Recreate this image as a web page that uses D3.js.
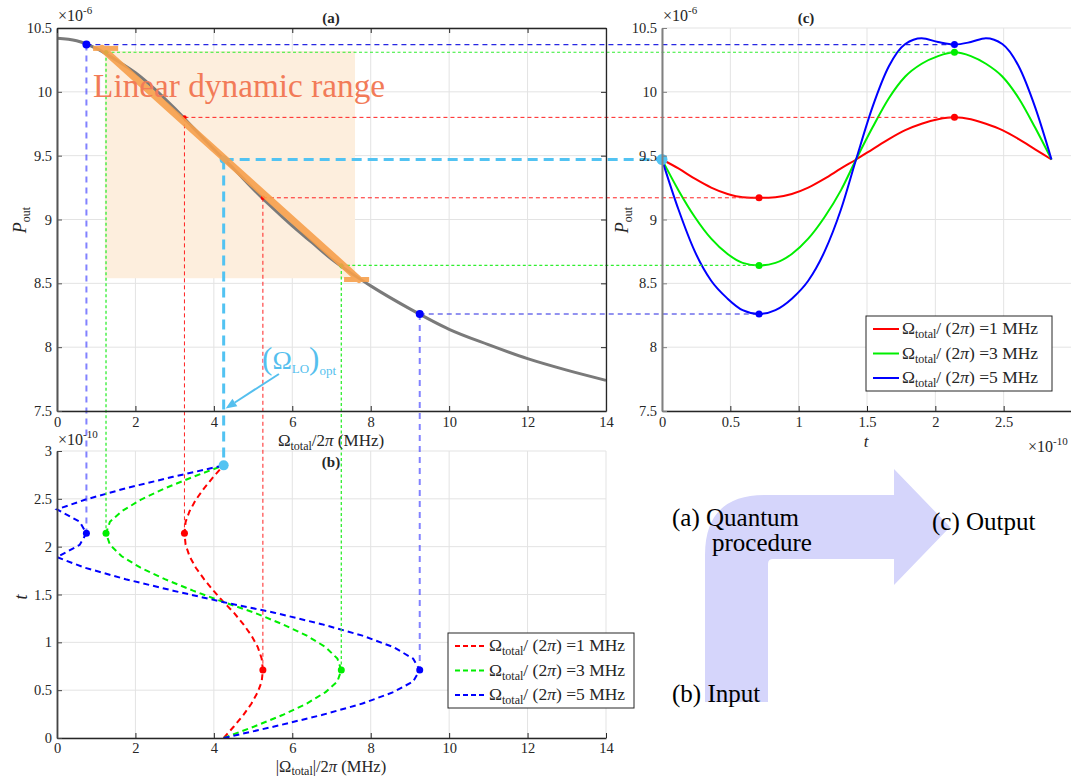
<!DOCTYPE html>
<html><head><meta charset="utf-8">
<script src="https://cdn.jsdelivr.net/npm/d3@7"></script>
<style>body{margin:0;background:#fff;overflow:hidden} svg text{font-family:'Liberation Serif','Times New Roman',serif;}</style>
</head><body><svg id="fig" width="1071" height="778"></svg>
<script>
// ---------------- data ----------------
const omegaGrid = [0,0.5,1,1.5,2,2.5,3,3.5,4,4.5,5,5.5,6,6.5,7,7.5,8,9,10,11,12,13,14];
const poutGray  = [10.42,10.40,10.34,10.25,10.15,10.02,9.87,9.71,9.55,9.40,9.24,9.09,8.95,8.82,8.69,8.58,8.48,8.30,8.14,8.02,7.91,7.82,7.74];

const tGrid      = [0,0.12,0.24,0.36,0.48,0.59,0.71,0.83,0.95,1.07,1.19,1.31,1.42,1.54,1.66,1.78,1.90,2.02,2.14,2.26,2.37,2.49,2.61,2.73,2.85];
const tGridBlueB = [0,0.12,0.24,0.36,0.48,0.59,0.71,0.83,0.95,1.07,1.19,1.31,1.42,1.54,1.66,1.78,1.89,2.02,2.14,2.26,2.39,2.49,2.61,2.73,2.85];

const omegaRed   = [4.25,4.51,4.75,4.96,5.12,5.22,5.25,5.22,5.12,4.96,4.75,4.51,4.25,3.99,3.75,3.54,3.38,3.28,3.25,3.28,3.38,3.54,3.75,3.99,4.25];
const omegaGreen = [4.25,5.03,5.75,6.37,6.85,7.15,7.25,7.15,6.85,6.37,5.75,5.03,4.25,3.47,2.75,2.13,1.65,1.35,1.25,1.35,1.65,2.13,2.75,3.47,4.25];
const omegaBlue  = [4.25,5.54,6.75,7.79,8.58,9.08,9.25,9.08,8.58,7.79,6.75,5.54,4.25,2.96,1.75,0.71,0,0.58,0.75,0.58,0,0.71,1.75,2.96,4.25];

const poutRed   = [9.47,9.40,9.32,9.25,9.20,9.175,9.17,9.175,9.20,9.25,9.32,9.40,9.47,9.55,9.63,9.70,9.75,9.785,9.80,9.785,9.75,9.70,9.63,9.55,9.47];
const poutGreen = [9.47,9.23,9.02,8.85,8.73,8.66,8.64,8.66,8.73,8.85,9.02,9.23,9.47,9.72,9.95,10.12,10.22,10.28,10.31,10.28,10.22,10.12,9.95,9.72,9.47];
const poutBlue  = [9.47,9.08,8.75,8.52,8.38,8.29,8.26,8.29,8.38,8.52,8.75,9.08,9.47,9.88,10.20,10.375,10.42,10.39,10.37,10.39,10.42,10.375,10.20,9.88,9.47];

const amplitudes = [1,3,5];
const seriesColors = ["#ff0000","#00ee00","#0000ff"];
const extremeIdx = [6,18];

const omegaTicks = [0,2,4,6,8,10,12,14];
const poutTicks  = [7.5,8,8.5,9,9.5,10,10.5];
const tTicks     = [0,0.5,1,1.5,2,2.5,3];
const tTickLabelsC = [0,0.5,1,1.5,2,2.5];

const omegaLO = 4.25, poutLO = 9.47, tEndB = 2.85;
const linRangeOmega = [1.15, 7.7], linRangeP = [10.34, 8.53];
const shadeOmega = [1.22, 7.6], shadeP = [8.54, 10.32];
const labelLinear = {omega:0.92, p:9.96};
const labelLO = {omega:5.23, p:7.83};
const arrowLO = {from:[5.66, 7.79], to:[4.30, 7.52]};

// ---------------- setup ----------------
const SERIF = "'Liberation Serif','Times New Roman',serif";
const svg = d3.select("#fig").style("font-family", SERIF);
const AX = "#262626", GRID = "#e3e3e3";

const xA = d3.scaleLinear().domain([0,14]).range([57,606]);
const yA = d3.scaleLinear().domain([7.5,10.5]).range([411,28]);
const xC = d3.scaleLinear().domain([0,3]).range([662,1072]);
const yC = yA.copy();
const xB = xA.copy();
const yB = d3.scaleLinear().domain([0,3]).range([738,451]);

function rich(g, x, y, parts, fs, anchor, color, rot){
  const t = g.append("text").attr("x",x).attr("y",y).attr("font-size",fs)
    .attr("text-anchor",anchor||"start").attr("fill",color||AX).style("font-family",SERIF);
  if(rot) t.attr("transform",`rotate(${rot},${x},${y})`);
  let cur = 0;
  parts.forEach(p=>{
    const s = t.append("tspan").text(p.t);
    const off = p.off||0;
    if(off!==cur){ s.attr("dy", off-cur); cur = off; }
    if(p.fs) s.attr("font-size", p.fs);
    if(p.it) s.attr("font-style","italic");
  });
  return t;
}

function grid(g, xs, ys, xt, yt){
  g.append("g").selectAll("line").data(xt).join("line")
    .attr("x1",d=>xs(d)).attr("x2",d=>xs(d)).attr("y1",ys.range()[0]).attr("y2",ys.range()[1])
    .attr("stroke",GRID).attr("stroke-width",1);
  g.append("g").selectAll("line").data(yt).join("line")
    .attr("y1",d=>ys(d)).attr("y2",d=>ys(d)).attr("x1",xs.range()[0]).attr("x2",Math.min(xs.range()[1],1071))
    .attr("stroke",GRID).attr("stroke-width",1);
}

function styleAxis(a, color, w){
  a.attr("font-family",SERIF);
  a.select(".domain").attr("stroke",color).attr("stroke-width",w);
  a.selectAll(".tick line").attr("stroke",color).attr("stroke-width",1);
  a.selectAll(".tick text").attr("fill",AX).attr("font-size",14.5).style("font-family",SERIF);
}

// grids
grid(svg.append("g"), xA, yA, omegaTicks, poutTicks);
grid(svg.append("g"), xC, yC, tTicks, poutTicks);
grid(svg.append("g"), xB, yB, omegaTicks, tTicks);

// ---------------- panel (a) content ----------------
const gA = svg.append("g");
gA.append("rect").attr("x",xA(shadeOmega[0])).attr("y",yA(shadeP[1]))
  .attr("width",xA(shadeOmega[1])-xA(shadeOmega[0])).attr("height",yA(shadeP[0])-yA(shadeP[1]))
  .attr("fill","#fdeedd");

const lineA = d3.line().x(d=>xA(d[0])).y(d=>yA(d[1])).curve(d3.curveMonotoneX);
gA.append("path").datum(omegaGrid.map((o,i)=>[o,poutGray[i]])).attr("d",lineA)
  .attr("fill","none").attr("stroke","#7a7a7a").attr("stroke-width",3);

// ---------------- panel (b) curves ----------------
const gB = svg.append("g");
const omegaSeries = [omegaRed, omegaGreen, omegaBlue];
const poutSeries = [poutRed, poutGreen, poutBlue];
const tSeriesB = [tGrid, tGrid, tGridBlueB];
const lineB = d3.line().x(d=>xB(d[0])).y(d=>yB(d[1]));
omegaSeries.forEach((om,s)=>{
  gB.append("path").datum(om.map((o,i)=>[o,tSeriesB[s][i]])).attr("d",lineB)
    .attr("fill","none").attr("stroke",seriesColors[s]).attr("stroke-width",2)
    .attr("stroke-dasharray","6,4");
});

// ---------------- panel (c) curves ----------------
const gC = svg.append("g");
const lineC = d3.line().x(d=>xC(d[0])).y(d=>yC(d[1])).curve(d3.curveMonotoneX);
poutSeries.forEach((ps,s)=>{
  gC.append("path").datum(ps.map((p,i)=>[tGrid[i],p])).attr("d",lineC)
    .attr("fill","none").attr("stroke",seriesColors[s]).attr("stroke-width",2);
});

// ---------------- connector dashed lines ----------------
const gL = svg.append("g");
const conH = [
  {c:"#ff2020", w:1, dash:"4,3", op:1},
  {c:"#30ee30", w:1.2, dash:"3,2.5", op:1},
  {c:"#1010e0", w:1.1, dash:"5,4", op:0.9}
];
const conV = [
  {c:"#ff2020", w:1, dash:"4,3", op:1},
  {c:"#30ee30", w:1.3, dash:"3,2.5", op:1},
  {c:"#3030ff", w:2, dash:"6,5", op:0.6}
];
omegaSeries.forEach((om,s)=>{
  extremeIdx.forEach(k=>{
    const h = conH[s], v = conV[s];
    gL.append("line").attr("x1",xA(om[k])).attr("x2",xC(tGrid[k]))
      .attr("y1",yA(poutSeries[s][k])).attr("y2",yC(poutSeries[s][k]))
      .attr("stroke",h.c).attr("stroke-width",h.w).attr("stroke-dasharray",h.dash).attr("opacity",h.op);
    gL.append("line").attr("x1",xA(om[k])).attr("x2",xB(om[k]))
      .attr("y1",yA(poutSeries[s][k])).attr("y2",yB(tSeriesB[s][k]))
      .attr("stroke",v.c).attr("stroke-width",v.w).attr("stroke-dasharray",v.dash).attr("opacity",v.op);
  });
});
const CYAN = "#52c3f2";
gL.append("line").attr("x1",xA(omegaLO)).attr("x2",xC(0)).attr("y1",yA(poutLO)).attr("y2",yC(poutLO))
  .attr("stroke",CYAN).attr("stroke-width",3).attr("stroke-dasharray","10,6");
gL.append("line").attr("x1",xA(omegaLO)).attr("x2",xB(omegaLO)).attr("y1",yA(poutLO)).attr("y2",yB(tEndB))
  .attr("stroke",CYAN).attr("stroke-width",3).attr("stroke-dasharray","10,6");

// dots
const gD = svg.append("g");
omegaSeries.forEach((om,s)=>{
  extremeIdx.forEach(k=>{
    gD.append("circle").attr("cx",xA(om[k])).attr("cy",yA(poutSeries[s][k])).attr("r", s===2?4:2.2).attr("fill",seriesColors[s]);
    gD.append("circle").attr("cx",xC(tGrid[k])).attr("cy",yC(poutSeries[s][k])).attr("r",3.5).attr("fill",seriesColors[s]);
    gD.append("circle").attr("cx",xB(om[k])).attr("cy",yB(tSeriesB[s][k])).attr("r",3.5).attr("fill",seriesColors[s]);
  });
});
gD.append("circle").attr("cx",xA(omegaLO)).attr("cy",yA(poutLO)).attr("r",4).attr("fill",CYAN);
gD.append("circle").attr("cx",xB(omegaLO)).attr("cy",yB(tEndB)).attr("r",5).attr("fill",CYAN);
gD.append("circle").attr("cx",xC(0)).attr("cy",yC(poutLO)).attr("r",5.5).attr("fill",CYAN);

// orange linear-range marker
const ORANGE = "#f7a04c";
const gO = svg.append("g").attr("opacity",0.9);
gO.append("line").attr("x1",xA(linRangeOmega[0])).attr("y1",yA(linRangeP[0]))
  .attr("x2",xA(linRangeOmega[1])).attr("y2",yA(linRangeP[1]))
  .attr("stroke",ORANGE).attr("stroke-width",7).attr("stroke-linecap","round");
[[linRangeOmega[0]-0.23,linRangeOmega[0]+0.41,linRangeP[0]],[linRangeOmega[1]-0.38,linRangeOmega[1]+0.26,linRangeP[1]]].forEach(b=>{
  gO.append("line").attr("x1",xA(b[0])).attr("x2",xA(b[1])).attr("y1",yA(b[2])).attr("y2",yA(b[2]))
    .attr("stroke",ORANGE).attr("stroke-width",5);
});

svg.append("text").attr("x",xA(labelLinear.omega)).attr("y",yA(labelLinear.p))
  .attr("font-size",33).attr("fill","#f27b58").attr("textLength",292).attr("lengthAdjust","spacingAndGlyphs")
  .style("font-family",SERIF).text("Linear dynamic range");

// LO annotation
rich(svg, xA(labelLO.omega), yA(labelLO.p), [
  {t:"(",fs:31},{t:"Ω",fs:26},{t:"LO",fs:13,off:4},{t:")",fs:31,off:0},{t:"opt",fs:13,off:6}
], 26, "start", "#55bfee");
const ax1 = xA(arrowLO.from[0]), ay1 = yA(arrowLO.from[1]), ax2 = xA(arrowLO.to[0]), ay2 = yA(arrowLO.to[1]);
const ang = Math.atan2(ay2-ay1, ax2-ax1);
const hl = 11, hw = 4.5;
const bx = ax2 - hl*Math.cos(ang), by = ay2 - hl*Math.sin(ang);
svg.append("line").attr("x1",ax1).attr("y1",ay1).attr("x2",bx).attr("y2",by).attr("stroke","#55bfee").attr("stroke-width",2);
svg.append("path").attr("d",`M${ax2},${ay2}L${bx - hw*Math.sin(ang)},${by + hw*Math.cos(ang)}L${bx + hw*Math.sin(ang)},${by - hw*Math.cos(ang)}Z`).attr("fill","#55bfee");

// ---------------- axes ----------------
const fmt = d => String(d);
// panel a (box on)
styleAxis(svg.append("g").attr("transform","translate(0,411)").call(d3.axisBottom(xA).tickValues(omegaTicks).tickFormat(fmt).tickSize(-5).tickSizeOuter(0).tickPadding(6)), AX, 1.3);
styleAxis(svg.append("g").attr("transform","translate(57,0)").call(d3.axisLeft(yA).tickValues(poutTicks).tickFormat(fmt).tickSize(-5).tickSizeOuter(0).tickPadding(5)), "#555", 2);
styleAxis(svg.append("g").attr("transform","translate(0,28)").call(d3.axisTop(xA).tickValues(omegaTicks).tickFormat("").tickSize(-5).tickSizeOuter(0)), AX, 1.3);
styleAxis(svg.append("g").attr("transform","translate(606,0)").call(d3.axisRight(yA).tickValues(poutTicks).tickFormat("").tickSize(-5).tickSizeOuter(0)), AX, 1.3);
// panel b
styleAxis(svg.append("g").attr("transform","translate(0,738)").call(d3.axisBottom(xB).tickValues(omegaTicks).tickFormat(fmt).tickSize(-5).tickSizeOuter(0).tickPadding(5)), AX, 1.3);
styleAxis(svg.append("g").attr("transform","translate(57,0)").call(d3.axisLeft(yB).tickValues(tTicks).tickFormat(fmt).tickSize(-5).tickSizeOuter(0).tickPadding(5)), "#444", 1.8);
// panel c
styleAxis(svg.append("g").attr("transform","translate(0,411)").call(d3.axisBottom(xC).tickValues(tTickLabelsC).tickFormat(fmt).tickSize(-5).tickSizeOuter(0).tickPadding(6)), AX, 1.3);
styleAxis(svg.append("g").attr("transform","translate(662,0)").call(d3.axisLeft(yC).tickValues(poutTicks).tickFormat(fmt).tickSize(-5).tickSizeOuter(0).tickPadding(5)), "#808080", 2);

// ---------------- labels ----------------
const tl = svg.append("g");
[["(a)",331,23],["(c)",806,23],["(b)",331,467]].forEach(d=>{
  tl.append("text").attr("x",d[1]).attr("y",d[2]).attr("text-anchor","middle").attr("font-size",15)
    .attr("font-weight","bold").attr("fill",AX).style("font-family",SERIF).text(d[0]);
});

rich(tl, 58, 21, [{t:"×10"},{t:"-6",fs:11,off:-7}], 16);
rich(tl, 663, 21, [{t:"×10"},{t:"-6",fs:11,off:-7}], 16);
rich(tl, 58, 445, [{t:"×10"},{t:"-10",fs:11,off:-7}], 16);
rich(tl, 1028, 452, [{t:"×10"},{t:"-10",fs:11,off:-7}], 16);

rich(tl, 331, 446, [{t:"Ω"},{t:"total",fs:12,off:4},{t:"/2",off:0},{t:"π",it:1},{t:" (MHz)"}], 17, "middle");
rich(tl, 331, 772, [{t:"|Ω"},{t:"total",fs:12,off:3},{t:"|/2",off:0},{t:"π",it:1},{t:" (MHz)"}], 16.5, "middle");
rich(tl, 866, 447, [{t:"t",it:1}], 17, "middle");
rich(tl, 26, 220, [{t:"P",it:1},{t:"out",fs:12,off:4}], 18, "middle", AX, -90);
rich(tl, 628, 220, [{t:"P",it:1},{t:"out",fs:12,off:4}], 18, "middle", AX, -90);
rich(tl, 27, 597, [{t:"t",it:1}], 18, "middle", AX, -90);

// ---------------- legends ----------------
function legend(x, y, w, dashed){
  const g = svg.append("g");
  g.append("rect").attr("x",x).attr("y",y).attr("width",w).attr("height",75).attr("fill","#fff").attr("stroke",AX).attr("stroke-width",1);
  amplitudes.forEach((a,i)=>{
    const cy = y + 13 + i*24.5;
    g.append("line").attr("x1",x+7).attr("x2",x+(dashed?38:33)).attr("y1",cy).attr("y2",cy)
      .attr("stroke",seriesColors[i]).attr("stroke-width",2).attr("stroke-dasharray",dashed?"5,3":null);
    rich(g, x+(dashed?41:36), cy+5, [{t:"Ω"},{t:"total",fs:12,off:4},{t:"/ (2",off:0},{t:"π",it:1},{t:") ="+a+" MHz"}], 17.5, "start", AX);
  });
}
legend(866, 316, 186, false);
legend(448, 633, 186, true);

// ---------------- flow arrow ----------------
svg.append("path").attr("d","M705,702 L705,555 Q705,495 765,495 L894,495 L894,469 L950,527 L894,585 L894,559 L773,559 Q768,559 768,564 L768,702 Z")
  .attr("fill","#d5d5fb");
const fa = svg.append("g").attr("font-size",25).attr("fill","#000").style("font-family",SERIF);
fa.append("text").attr("x",672).attr("y",526).text("(a) Quantum");
fa.append("text").attr("x",712).attr("y",551).text("procedure");
fa.append("text").attr("x",932).attr("y",530).text("(c) Output");
fa.append("text").attr("x",672).attr("y",702).text("(b) Input");
</script></body></html>
